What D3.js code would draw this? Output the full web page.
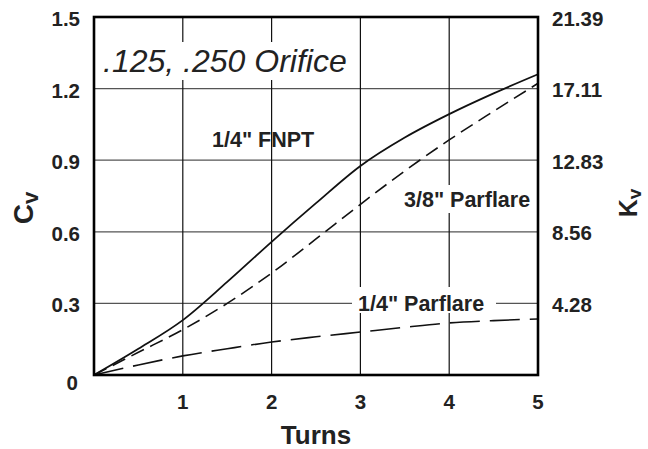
<!DOCTYPE html>
<html><head><meta charset="utf-8">
<script src="https://cdn.jsdelivr.net/npm/d3@7"></script>
<style>
html,body{margin:0;padding:0;background:#fff;}
svg{display:block;font-family:"Liberation Sans",Arial,sans-serif;}
</style></head>
<body>
<script>
// ---- data ----
const turns = [0, 0.5, 1, 1.5, 2, 2.5, 3, 3.5, 4, 4.5, 5];
const fnpt14 = [0, 0.11, 0.23, 0.39, 0.558, 0.72, 0.876, 0.995, 1.093, 1.18, 1.26];
const parflare38 = [0, 0.095, 0.19, 0.30, 0.427, 0.57, 0.715, 0.855, 0.985, 1.105, 1.222];
const parflare14 = [0, 0.042, 0.08, 0.11, 0.138, 0.16, 0.18, 0.2, 0.218, 0.228, 0.235];
const xTicks = [1, 2, 3, 4, 5];
const cvTicks = [0, 0.3, 0.6, 0.9, 1.2, 1.5];
const kvTicks = [4.28, 8.56, 12.83, 17.11, 21.39];
const titleText = ".125, .250 Orifice";

const W = 648, H = 449;
const m = {left: 94, right: 110, top: 17, bottom: 74};
const iw = W - m.left - m.right, ih = H - m.top - m.bottom;

const svg = d3.select("body").append("svg").attr("width", W).attr("height", H);
const g = svg.append("g").attr("transform", `translate(${m.left},${m.top})`);

const x = d3.scaleLinear().domain([0, 5]).range([0, iw]);
const y = d3.scaleLinear().domain([0, 1.5]).range([ih, 0]);
const yk = d3.scaleLinear().domain([0, 21.39]).range([ih, 0]);

const txt = "#222";
const fs = 20.5;

// gridlines
const grid = g.append("g");
grid.selectAll("line.h").data(cvTicks.slice(1, -1)).join("line")
  .attr("x1", 0).attr("x2", iw).attr("y1", d => y(d)).attr("y2", d => y(d))
  .attr("stroke", "#555").attr("stroke-width", 1.2);
grid.selectAll("line.v").data(xTicks.slice(0, -1)).join("line")
  .attr("x1", d => x(d)).attr("x2", d => x(d)).attr("y1", 0).attr("y2", ih)
  .attr("stroke", "#111").attr("stroke-width", 1.2);

// white boxes behind labels (cut gridlines)
const boxes = g.append("g");
function box(x0, y0, w, h) {
  boxes.append("rect").attr("x", x0 - m.left).attr("y", y0 - m.top)
    .attr("width", w).attr("height", h).attr("fill", "#fff");
}
box(100, 42, 252, 38);   // title
box(400, 185, 132, 28);  // 3/8" Parflare
box(352, 287, 144, 26);  // 1/4" Parflare

// curves
const line = d3.line().x((d, i) => x(turns[i])).y(d => y(d)).curve(d3.curveMonotoneX);
g.append("path").datum(fnpt14).attr("d", line).attr("fill", "none")
  .attr("stroke", "#111").attr("stroke-width", 1.8);
g.append("path").datum(parflare38).attr("d", line).attr("fill", "none")
  .attr("stroke", "#111").attr("stroke-width", 1.6).attr("stroke-dasharray", "14,7");
g.append("path").datum(parflare14).attr("d", line).attr("fill", "none")
  .attr("stroke", "#111").attr("stroke-width", 1.6).attr("stroke-dasharray", "30,10");

// frame
g.append("rect").attr("x", 0).attr("y", 0).attr("width", iw).attr("height", ih)
  .attr("fill", "none").attr("stroke", "#000").attr("stroke-width", 2.6);

// left axis labels
g.append("g").selectAll("text").data(cvTicks).join("text")
  .attr("x", d => d === 0 ? -16 : -14)
  .attr("y", d => y(d) + (d === 0 ? 15 : 9))
  .attr("text-anchor", "end").attr("font-size", fs).attr("font-weight", "bold")
  .attr("fill", txt).text(d => d === 0 ? "0" : d3.format(".1f")(d));

// right axis labels
g.append("g").selectAll("text").data(kvTicks).join("text")
  .attr("x", iw + 14).attr("y", d => yk(d) + 8.5)
  .attr("text-anchor", "start").attr("font-size", fs).attr("font-weight", "bold")
  .attr("fill", txt).text(d => d3.format(".2f")(d));

// x axis labels
g.append("g").selectAll("text").data(xTicks).join("text")
  .attr("x", d => x(d)).attr("y", ih + 34)
  .attr("text-anchor", "middle").attr("font-size", fs).attr("font-weight", "bold")
  .attr("fill", txt).text(d => d);

// axis titles
svg.append("text").attr("x", m.left + iw / 2).attr("y", 444)
  .attr("text-anchor", "middle").attr("font-size", 26).attr("font-weight", "bold")
  .attr("fill", txt).text("Turns");

const cv = svg.append("text").attr("transform", "translate(33,208) rotate(-90)")
  .attr("text-anchor", "middle").attr("font-size", 28).attr("font-weight", "bold").attr("fill", txt);
cv.append("tspan").text("C");
cv.append("tspan").attr("font-size", 22).attr("dy", 5).text("v");

const kv = svg.append("text").attr("transform", "translate(637,203) rotate(-90)")
  .attr("text-anchor", "middle").attr("font-size", 25).attr("font-weight", "bold").attr("fill", txt);
kv.append("tspan").text("K");
kv.append("tspan").attr("font-size", 19).attr("dy", 4).text("v");

// title
svg.append("text").attr("x", 103).attr("y", 72).attr("font-size", 32)
  .attr("font-style", "italic").attr("fill", txt).text(titleText);

// series labels
function label(t, x0, yb) {
  svg.append("text").attr("x", x0).attr("y", yb).attr("font-size", 21.5)
    .attr("font-weight", "bold").attr("fill", txt).text(t);
}
label('1/4" FNPT', 212, 147);
label('3/8" Parflare', 404, 207);
label('1/4" Parflare', 358, 311);
</script>
</body></html>
